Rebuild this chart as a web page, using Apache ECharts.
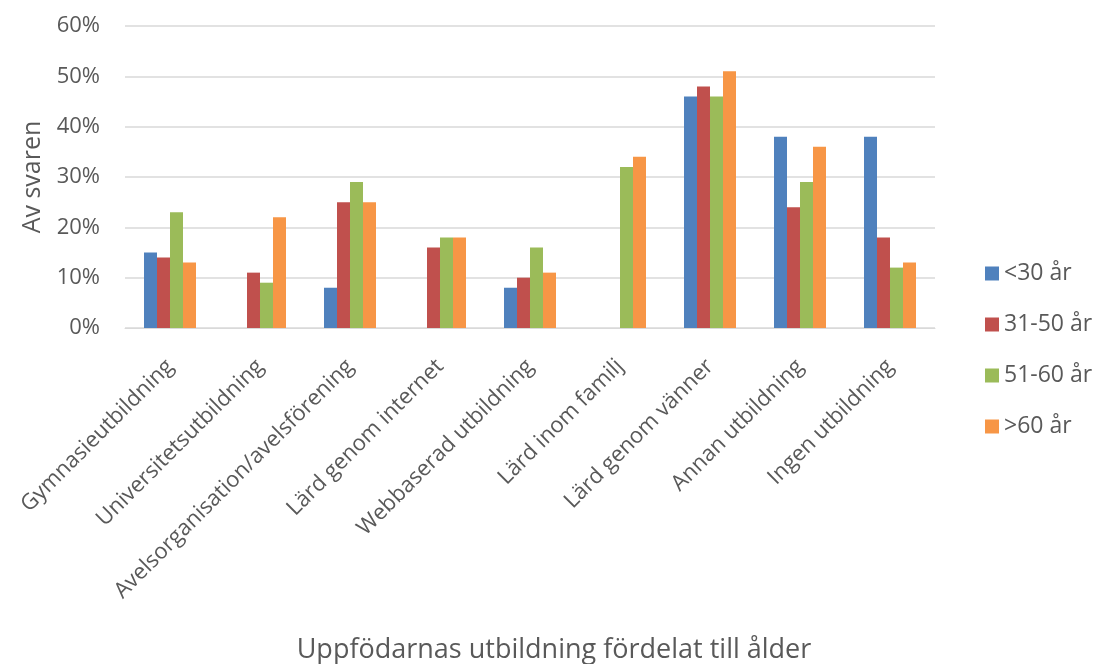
<!DOCTYPE html>
<html>
<head>
<meta charset="utf-8">
<script src="https://cdn.jsdelivr.net/npm/echarts@6/dist/echarts.min.js"></script>
<style>
html,body{margin:0;padding:0;background:#fff;}
#chart{width:1098px;height:664px;}
</style>
</head>
<body>
<div id="chart"></div>
<script>
const categories = ["Gymnasieutbildning","Universitetsutbildning","Avelsorganisation/avelsförening","Lärd genom internet","Webbaserad utbildning","Lärd inom familj","Lärd genom vänner","Annan utbildning","Ingen utbildning"];
const seriesNames = ["<30 år","31-50 år","51-60 år",">60 år"];
const under30 = [15, 0, 8, 0, 8, 0, 46, 38, 38];
const age31to50 = [14, 11, 25, 16, 10, 0, 48, 24, 18];
const age51to60 = [23, 9, 29, 18, 16, 32, 46, 29, 12];
const over60 = [13, 22, 25, 18, 11, 34, 51, 36, 13];
const yTicks = [0, 10, 20, 30, 40, 50, 60];
const colors = ["#4F81BD","#C0504D","#9BBB59","#F79646"];
const textColor = "#595959";
const font = "'Open Sans', 'Liberation Sans', sans-serif";

const chart = echarts.init(document.getElementById('chart'));
const allData = [under30, age31to50, age51to60, over60];
chart.setOption({
  animation: false,
  color: colors,
  textStyle: {fontFamily: font},
  title: {
    text: "Uppfödarnas utbildning fördelat till ålder",
    left: 549, top: 632, textAlign: 'center',
    textStyle: {fontFamily: font, fontSize: 27, fontWeight: 'normal', color: textColor}
  },
  legend: {
    orient: 'vertical', left: 980, top: 257, itemGap: 28,
    itemWidth: 14, itemHeight: 14,
    icon: 'rect',
    textStyle: {fontFamily: font, fontSize: 23, color: textColor},
    data: seriesNames
  },
  grid: {left: 125, right: 163, top: 26, bottom: 336, containLabel: false},
  xAxis: {
    type: 'category', data: categories,
    axisLine: {lineStyle: {color: '#D9D9D9'}},
    axisTick: {show: false},
    axisLabel: {rotate: 45, interval: 0, margin: 35, fontFamily: font, fontSize: 22, color: textColor}
  },
  yAxis: {
    type: 'value', min: yTicks[0], max: yTicks[yTicks.length-1], interval: 10,
    name: 'Av svaren', nameLocation: 'middle', nameGap: 76, nameRotate: 90,
    nameTextStyle: {fontFamily: font, fontSize: 25, color: textColor},
    axisLine: {show: false}, axisTick: {show: false},
    splitLine: {lineStyle: {color: '#D9D9D9', width: 1.5}},
    axisLabel: {formatter: '{value}%', margin: 25, fontFamily: font, fontSize: 22, color: textColor}
  },
  series: seriesNames.map((n, i) => ({
    name: n, type: 'bar', data: allData[i],
    barWidth: 13, barGap: '0%',
    itemStyle: {color: colors[i]}
  }))
});
</script>
</body>
</html>
